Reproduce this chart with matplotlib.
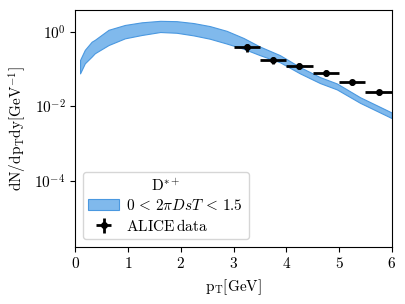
import matplotlib
matplotlib.use('Agg')
from matplotlib import pyplot as plt
from matplotlib.ticker import NullLocator

plt.rcParams['font.family'] = 'serif'
plt.rcParams['font.serif'] = ['cmr10']
plt.rcParams['mathtext.fontset'] = 'cm'
plt.rcParams['axes.formatter.use_mathtext'] = True
plt.rcParams['font.size'] = 11

# band (lower / upper edge of 0 < 2piDsT < 1.5)
band_pt = [0.09, 0.18, 0.31, 0.37, 0.63, 0.94, 1.26, 1.61, 1.92, 2.24, 2.55, 2.87,
           3.19, 3.50, 3.88, 4.26, 4.64, 4.96, 5.40, 6.0]
band_lo = [0.0759, 0.141, 0.214, 0.263, 0.437, 0.661, 0.813, 0.977, 0.933, 0.794, 0.646, 0.479,
           0.347, 0.234, 0.151, 0.0759, 0.0417, 0.0282, 0.0123, 0.00479]
band_hi = [0.174, 0.324, 0.537, 0.603, 1.12, 1.51, 1.78, 1.95, 1.91, 1.70, 1.41, 1.05,
           0.676, 0.398, 0.234, 0.112, 0.0603, 0.0407, 0.0174, 0.00676]

# ALICE D*+ points
alice_pt = [3.25, 3.75, 4.25, 4.75, 5.25, 5.75]
alice_y = [0.38, 0.174, 0.123, 0.079, 0.044, 0.0236]
alice_xerr = [0.25, 0.25, 0.25, 0.25, 0.25, 0.25]
alice_yerr = [0.1, 0.04, 0.025, 0.015, 0.008, 0.004]

fig = plt.figure(figsize=(4.06, 3.04), dpi=100)
ax = fig.add_axes([0.1855, 0.1885, 0.7793, 0.7785])

ax.fill_between(band_pt, band_lo, band_hi, facecolor='#80b9ec', edgecolor='#4a98e0',
                linewidth=0.8, label=r'$0\,<\,2\pi DsT\,<\,1.5$')
ax.errorbar(alice_pt, alice_y, xerr=alice_xerr, yerr=alice_yerr, fmt='o', color='black',
            markersize=4, elinewidth=2, capsize=0, label=r'$\mathrm{ALICE\,data}$')

ax.set_yscale('log')
ax.set_xlim(0, 6)
ax.set_ylim(1.7e-6, 3.8)
ax.set_yticks([1e-4, 1e-2, 1e0])
ax.yaxis.set_minor_locator(NullLocator())
ax.set_xlabel(r'$\mathrm{p_T[GeV]}$')
ax.set_ylabel(r'$\mathrm{dN/dp_Tdy[GeV^{-1}]}$')

ax.legend(loc='lower left', title=r'$\mathrm{D^{*+}}$', fontsize=11, title_fontsize=11,
          labelspacing=0.3, handletextpad=0.5, borderpad=0.35)

fig.savefig('out.png', dpi=100)
